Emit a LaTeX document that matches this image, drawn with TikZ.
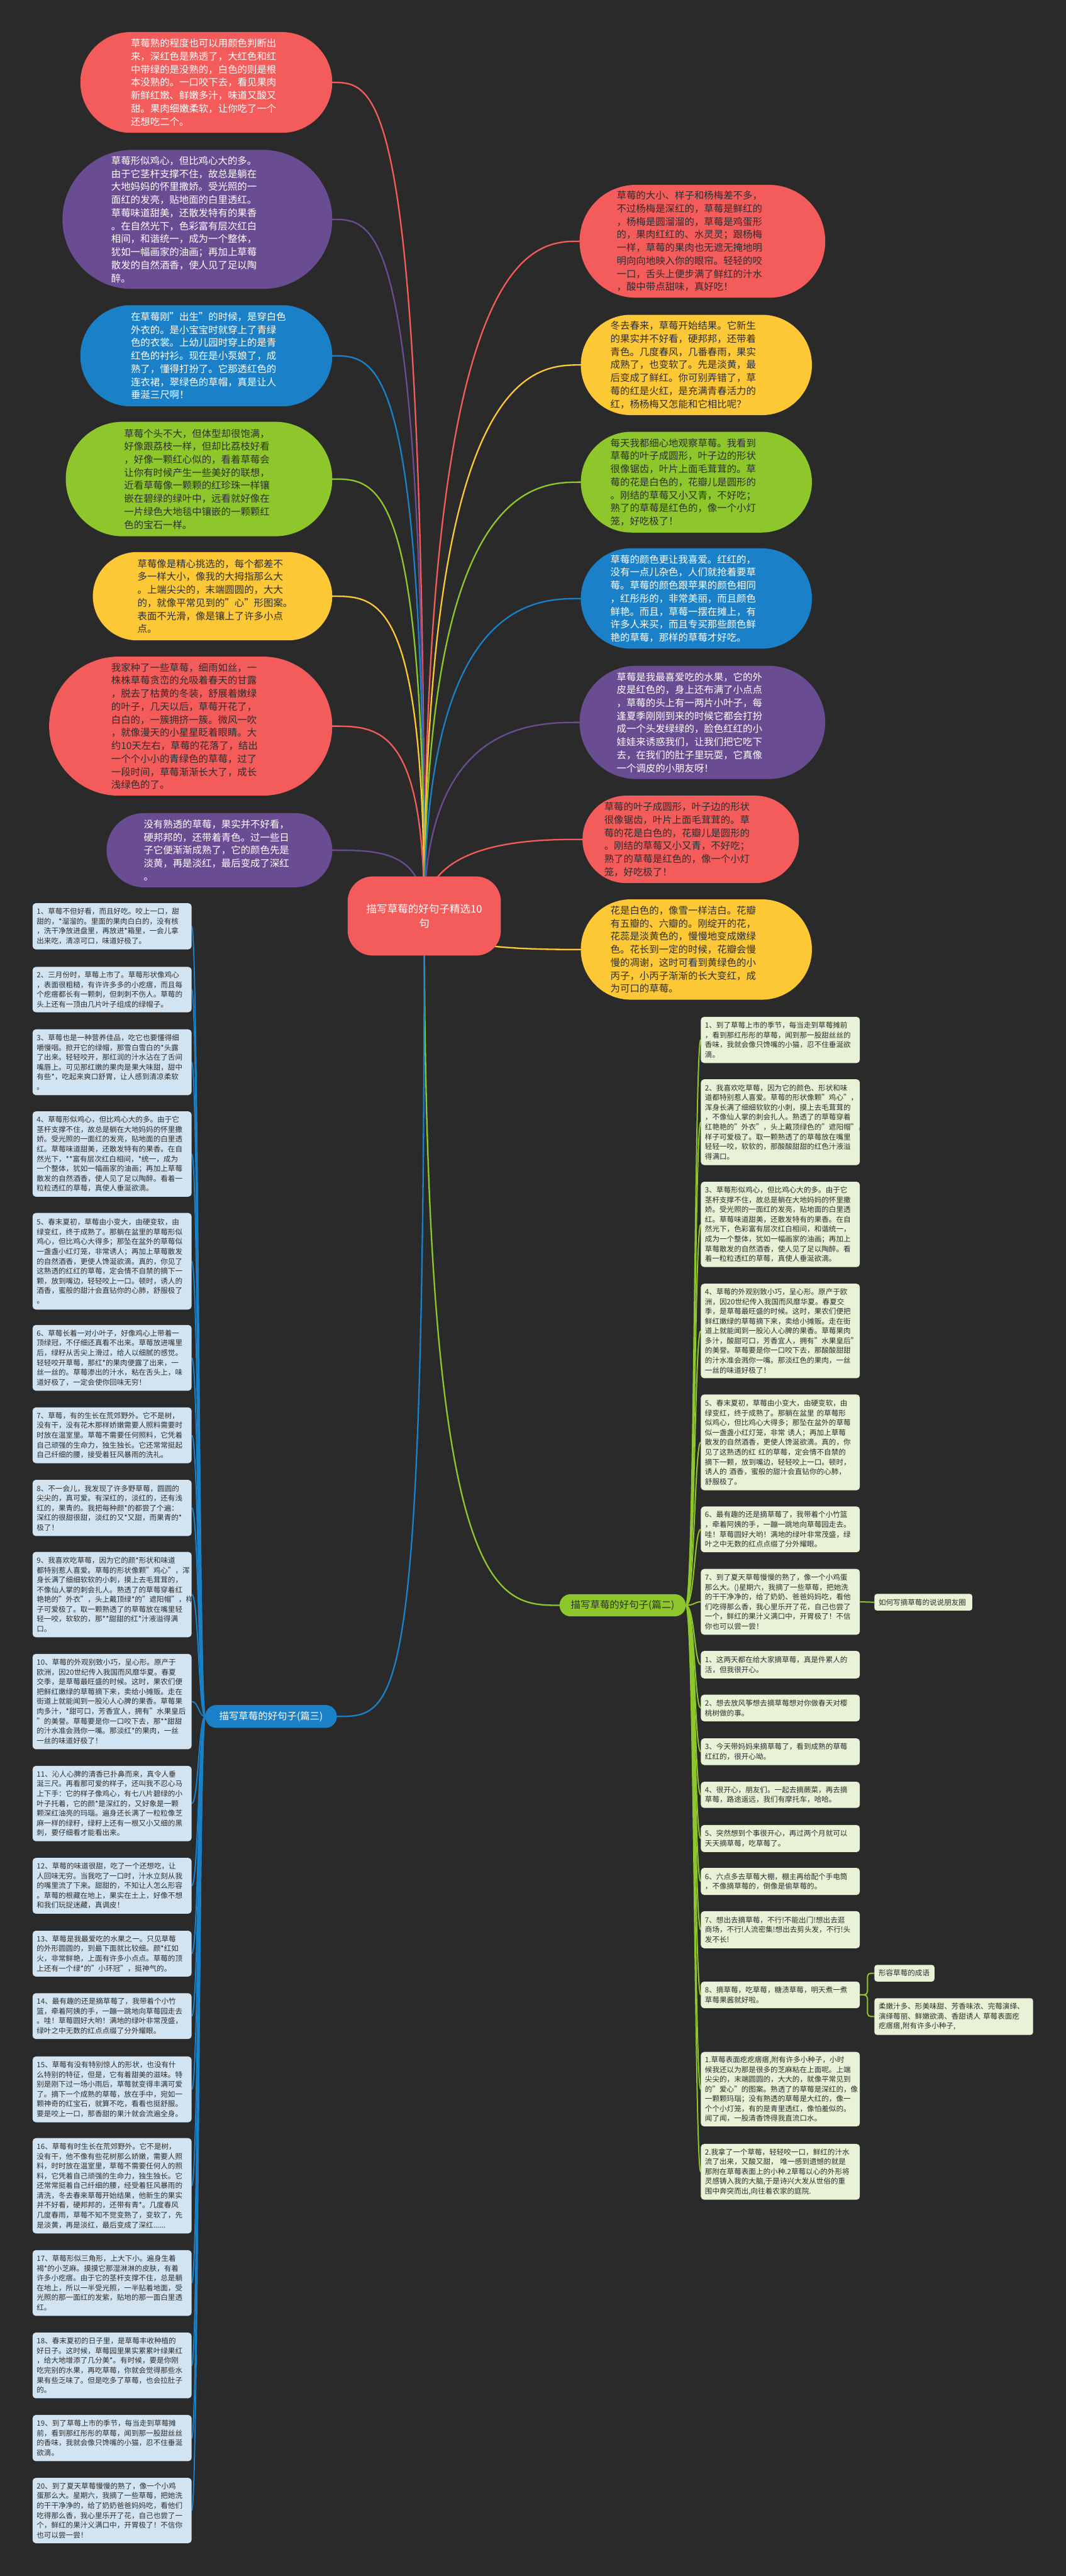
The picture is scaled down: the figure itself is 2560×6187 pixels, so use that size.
\documentclass[tikz,border=0pt]{standalone}
\usepackage{fontspec}
\setmainfont{Noto Sans CJK SC}
\usetikzlibrary{calc}
\definecolor{bgc}{HTML}{2A2A2A}
\definecolor{cred}{HTML}{F45B5B}
\definecolor{cpur}{HTML}{6A4C93}
\definecolor{cblu}{HTML}{1A80C8}
\definecolor{cgrn}{HTML}{8EC72B}
\definecolor{cyel}{HTML}{FDC836}
\definecolor{lgf}{HTML}{E8F2D6}
\definecolor{lbf}{HTML}{D2E4F2}
\definecolor{dtx}{HTML}{2E2E2E}
\newcommand\mybubfont{\fontsize{23.3}{31.3}\selectfont}
\newcommand\mylistfont{\fontsize{17.5}{23.5}\selectfont}
\pgfdeclarelayer{bgl}
\pgfdeclarelayer{edges}
\pgfsetlayers{bgl,edges,main}
\tikzset{
  bubble/.style={rectangle, inner sep=0pt, draw=none},
  btxt/.style={anchor=west, inner sep=0pt, align=left, font=\mybubfont},
  lbbox/.style={anchor=north west, fill=lbf, rounded corners=8pt, text width=362pt, inner xsep=10pt, inner ysep=0pt, align=left, font=\mylistfont, text=dtx},
  lgbox/.style={anchor=north west, fill=lgf, rounded corners=8pt, text width=362pt, inner xsep=10pt, inner ysep=0pt, align=left, font=\mylistfont, text=dtx},
  conn/.style={line width=3.5pt, line cap=round},
  gl/.style={line width=3pt, cgrn},
  bl/.style={line width=3pt, cblu},
}
\begin{document}
\begin{tikzpicture}[x=1pt,y=-1pt]
\begin{pgfonlayer}{bgl}
\fill[bgc] (0,0) rectangle (2560,6187);
\end{pgfonlayer}
\useasboundingbox (0,0) rectangle (2560,6187);

% ---------- center ----------
\node[rectangle, rounded corners=60pt, fill=cred, minimum width=368pt, minimum height=190pt, text=white, align=center, font=\fontsize{25}{34}\selectfont] (c) at (1019,2200) {描写草莓的好句子精选10\\句};

% ---------- left bubbles ----------
\node[bubble, fill=cred, rounded corners=121pt, minimum width=605pt, minimum height=242pt] (l1) at (495.5,198) {};
\node[btxt, text=white] (l1t) at (314,198) {草莓熟的程度也可以用颜色判断出\\来，深红色是熟透了，大红色和红\\中带绿的是没熟的，白色的则是根\\本没熟的。一口咬下去，看见果肉\\新鲜红嫩、鲜嫩多汁，味道又酸又\\甜。果肉细嫩柔软，让你吃了一个\\还想吃二个。};

\node[bubble, fill=cpur, rounded corners=167pt, minimum width=648pt, minimum height=334pt] (l2) at (474,527) {};
\node[btxt, text=white] (l2t) at (267,527) {草莓形似鸡心，但比鸡心大的多。\\由于它茎杆支撑不住，故总是躺在\\大地妈妈的怀里撒娇。受光照的一\\面红的发亮，贴地面的白里透红。\\草莓味道甜美，还散发特有的果香\\。在自然光下，色彩富有层次红白\\相间，和谐统一，成为一个整体，\\犹如一幅画家的油画；再加上草莓\\散发的自然酒香，使人见了足以陶\\醉。};

\node[bubble, fill=cblu, rounded corners=121pt, minimum width=605pt, minimum height=243pt] (l3) at (495.5,854.5) {};
\node[btxt, text=white] (l3t) at (314,854.5) {在草莓刚"出生"的时候，是穿白色\\外衣的。是小宝宝时就穿上了青绿\\色的衣裳。上幼儿园时穿上的是青\\红色的衬衫。现在是小泵娘了，成\\熟了，懂得打扮了。它那透红色的\\连衣裙，翠绿色的草帽，真是让人\\垂涎三尺啊！};

\node[bubble, fill=cgrn, rounded corners=137pt, minimum width=640pt, minimum height=275pt] (l4) at (478,1150.5) {};
\node[btxt, text=dtx] (l4t) at (298,1150.5) {草莓个头不大，但体型却很饱满，\\好像跟荔枝一样，但却比荔枝好看\\，好像一颗红心似的，看着草莓会\\让你有时候产生一些美好的联想，\\近看草莓像一颗颗的红珍珠一样镶\\嵌在碧绿的绿叶中，远看就好像在\\一片绿色大地毯中镶嵌的一颗颗红\\色的宝石一样。};

\node[bubble, fill=cyel, rounded corners=106pt, minimum width=575pt, minimum height=212pt] (l5) at (510.5,1432) {};
\node[btxt, text=dtx] (l5t) at (330,1432) {草莓像是精心挑选的，每个都差不\\多一样大小，像我的大拇指那么大\\。上端尖尖的，末端圆圆的，大大\\的，就像平常见到的"心"形图案。\\表面不光滑，像是镶上了许多小点\\点。};

\node[bubble, fill=cred, rounded corners=167pt, minimum width=680pt, minimum height=334pt] (l6) at (458,1744) {};
\node[btxt, text=dtx] (l6t) at (267,1744) {我家种了一些草莓，细雨如丝，一\\株株草莓贪峦的允吸着春天的甘露\\，脱去了枯黄的冬装，舒展着嫩绿\\的叶子，几天以后，草莓开花了，\\白白的，一簇拥挤一簇。微风一吹\\，就像漫天的小星星眨着眼睛。大\\约10天左右，草莓的花落了，结出\\一个个小小的青绿色的草莓，过了\\一段时间，草莓渐渐长大了，成长\\浅绿色的了。};

\node[bubble, fill=cpur, rounded corners=89pt, minimum width=542pt, minimum height=178pt] (l7) at (527,2042) {};
\node[btxt, text=white] (l7t) at (345,2042) {没有熟透的草莓，果实并不好看，\\硬邦邦的，还带着青色。过一些日\\子它便渐渐成熟了，它的颜色先是\\淡黄，再是淡红，最后变成了深红\\。};

% ---------- right bubbles ----------
\node[bubble, fill=cred, rounded corners=135pt, minimum width=590pt, minimum height=271pt] (r1) at (1687,579.5) {};
\node[btxt, text=dtx] (r1t) at (1481,579.5) {草莓的大小、样子和杨梅差不多，\\不过杨梅是深红的，草莓是鲜红的\\，杨梅是圆溜溜的，草莓是鸡蛋形\\的，果肉红红的、水灵灵；跟杨梅\\一样，草莓的果肉也无遮无掩地明\\明向向地映入你的眼帘。轻轻的咬\\一口，舌头上便步满了鲜红的汁水\\，酸中带点甜味，真好吃！};

\node[bubble, fill=cyel, rounded corners=120pt, minimum width=555pt, minimum height=241pt] (r2) at (1672.5,876.5) {};
\node[btxt, text=dtx] (r2t) at (1466,876.5) {冬去春来，草莓开始结果。它新生\\的果实并不好看，硬邦邦，还带着\\青色。几度春风，几番春雨，果实\\成熟了，也变软了。先是淡黄，最\\后变成了鲜红。你可别弄错了，草\\莓的红是火红，是充满青春活力的\\红，杨杨梅又怎能和它相比呢？};

\node[bubble, fill=cgrn, rounded corners=121pt, minimum width=555pt, minimum height=242pt] (r3) at (1672.5,1158) {};
\node[btxt, text=dtx] (r3t) at (1466,1158) {每天我都细心地观察草莓。我看到\\草莓的叶子成圆形，叶子边的形状\\很像锯齿，叶片上面毛茸茸的。草\\莓的花是白色的，花瓣儿是圆形的\\。刚结的草莓又小又青，不好吃；\\熟了的草莓是红色的，像一个小灯\\笼，好吃极了！};

\node[bubble, fill=cblu, rounded corners=120pt, minimum width=555pt, minimum height=241pt] (r4) at (1672.5,1437.5) {};
\node[btxt, text=white] (r4t) at (1466,1437.5) {草莓的颜色更让我喜爱。红红的，\\没有一点儿杂色，人们就抢着要草\\莓。草莓的颜色跟苹果的颜色相同\\，红彤彤的，非常美丽，而且颜色\\鲜艳。而且，草莓一摆在摊上，有\\许多人来买，而且专买那些颜色鲜\\艳的草莓，那样的草莓才好吃。};

\node[bubble, fill=cpur, rounded corners=136pt, minimum width=590pt, minimum height=272pt] (r5) at (1687,1735) {};
\node[btxt, text=white] (r5t) at (1481,1735) {草莓是我最喜爱吃的水果，它的外\\皮是红色的，身上还布满了小点点\\，草莓的头上有一两片小叶子，每\\逢夏季刚刚到来的时候它都会打扮\\成一个头发绿绿的，脸色红红的小\\娃娃来诱惑我们，让我们把它吃下\\去，在我们的肚子里玩耍，它真像\\一个调皮的小朋友呀！};

\node[bubble, fill=cred, rounded corners=105pt, minimum width=520pt, minimum height=210pt] (r6) at (1659,2016) {};
\node[btxt, text=dtx] (r6t) at (1451,2016) {草莓的叶子成圆形，叶子边的形状\\很像锯齿，叶片上面毛茸茸的。草\\莓的花是白色的，花瓣儿是圆形的\\。刚结的草莓又小又青，不好吃；\\熟了的草莓是红色的，像一个小灯\\笼，好吃极了！};

\node[bubble, fill=cyel, rounded corners=120pt, minimum width=555pt, minimum height=241pt] (r7) at (1672.5,2280.5) {};
\node[btxt, text=dtx] (r7t) at (1466,2280.5) {花是白色的，像雪一样洁白。花瓣\\有五瓣的、六瓣的。刚绽开的花，\\花蕊是淡黄色的，慢慢地变成嫩绿\\色。花长到一定的时候，花瓣会慢\\慢的凋谢，这时可看到黄绿色的小\\丙子，小丙子渐渐的长大变红，成\\为可口的草莓。};

% ---------- section nodes ----------
\node[rectangle, rounded corners=26pt, fill=cgrn, minimum width=303pt, minimum height=53pt, inner sep=0pt, text=dtx, font=\mybubfont] (p2) at (1495.5,3855.5) {描写草莓的好句子(篇二)};
\node[rectangle, rounded corners=27pt, fill=cblu, minimum width=316pt, minimum height=55pt, inner sep=0pt, text=white, font=\mybubfont] (p3) at (651,4122.5) {描写草莓的好句子(篇三)};

% ---------- blue list (篇三) ----------
\node[lbbox, minimum height=111pt] (b1) at (78,2169) {1、草莓不但好看，而且好吃。咬上一口，甜\\甜的，*溜溜的。里面的果肉白白的，没有核\\，洗干净放进盘里，再放进*箱里，一会儿拿\\出来吃，清凉可口，味道好极了。};
\node[lbbox, minimum height=109pt] (b2) at (78,2322) {2、三月份时，草莓上市了。草莓形状像鸡心\\，表面很粗糙，有许许多多的小疙瘩，而且每\\个疙瘩都长有一颗刺，但刺刺不伤人。草莓的\\头上还有一顶由几片叶子组成的绿帽子。};
\node[lbbox, minimum height=158pt] (b3) at (78,2472) {3、草莓也是一种营养佳品，吃它也要懂得细\\嚼慢咽。掀开它的绿帽，那雪白雪白的*头露\\了出来。轻轻咬开，那红润的汁水沾在了舌间\\嘴唇上。可见那红嫩的果肉是果大味甜，甜中\\有些*，吃起来爽口舒胃，让人感到清凉柔软\\。};
\node[lbbox, minimum height=205pt] (b4) at (78,2669) {4、草莓形似鸡心，但比鸡心大的多。由于它\\茎杆支撑不住，故总是躺在大地妈妈的怀里撒\\娇。受光照的一面红的发亮，贴地面的白里透\\红。草莓味道甜美，还散发特有的果香。在自\\然光下，**富有层次红白相间，*统一，成为\\一个整体，犹如一幅画家的油画；再加上草莓\\散发的自然酒香，使人见了足以陶醉。看着一\\粒粒透红的草莓，真使人垂涎欲滴。};
\node[lbbox, minimum height=232pt] (b5) at (78,2913) {5、春末夏初，草莓由小变大，由硬变软，由\\绿变红，终于成熟了。那躺在盆里的草莓形似\\鸡心，但比鸡心大得多；那坠在盆外的草莓似\\一盏盏小红灯笼，非常诱人；再加上草莓散发\\的自然酒香，更使人馋涎欲滴。真的，你见了\\这熟透的红红的草莓，定会情不自禁的摘下一\\颗，放到嘴边，轻轻咬上一口。顿时，诱人的\\酒香，蜜般的甜汁会直钻你的心肺，舒服极了\\。};
\node[lbbox, minimum height=158pt] (b6) at (78,3182) {6、草莓长着一对小叶子，好像鸡心上带着一\\顶绿冠，不仔细还真看不出来。草莓放进嘴里\\后，绿籽从舌尖上滑过，给人以细腻的感觉。\\轻轻咬开草莓，那红*的果肉便露了出来，一\\丝一丝的。草莓渗出的汁水，粘在舌头上，味\\道好极了，一定会使你回味无穷！};
\node[lbbox, minimum height=134pt] (b7) at (78,3380) {7、草莓，有的生长在荒郊野外。它不是树，\\没有干，没有花木那样娇嫩需要人照料需要时\\时放在温室里。草莓不需要任何照料，它凭着\\自己顽强的生命力，独生独长。它还常常挺起\\自己纤细的腰，接受着狂风暴雨的洗礼。};
\node[lbbox, minimum height=135pt] (b8) at (78,3554) {8、不一会儿，我发现了许多野草莓，圆圆的\\尖尖的，真可爱。有深红的，淡红的，还有浅\\红的，果青的。我把每种颜*的都尝了个遍：\\深红的很甜很甜，淡红的又*又甜，而果青的*\\极了！};
\node[lbbox, minimum height=205pt] (b9) at (78,3727) {9、我喜欢吃草莓，因为它的颜*形状和味道\\都特别惹人喜爱。草莓的形状像颗"鸡心"，浑\\身长满了细细软软的小刺，摸上去毛茸茸的，\\不像仙人掌的刺会扎人。熟透了的草莓穿着红\\艳艳的"外衣"，头上戴顶绿*的"遮阳帽"，样\\子可爱极了。取一颗熟透了的草莓放在嘴里轻\\轻一咬，软软的，那**甜甜的红*汁液溢得满\\口。};
\node[lbbox, minimum height=229pt] (b10) at (78,3972) {10、草莓的外观别致小巧，呈心形。原产于\\欧洲，因20世纪传入我国而风靡华夏。春夏\\交季，是草莓最旺盛的时候。这时，果农们便\\把鲜红嫩绿的草莓摘下来，卖给小摊贩。走在\\街道上就能闻到一股沁人心脾的果香。草莓果\\肉多汁，*甜可口，芳香宜人，拥有"水果皇后\\"的美誉。草莓要是你一口咬下去，那**甜甜\\的汁水准会溅你一嘴。那淡红*的果肉，一丝\\一丝的味道好极了！};
\node[lbbox, minimum height=181pt] (b11) at (78,4241) {11、沁人心脾的清香已扑鼻而来，真令人垂\\涎三尺。再看那可爱的样子，还叫我不忍心马\\上下手：它的样子像鸡心，有七八片碧绿的小\\叶子托着，它的颜*是深红的，又好象是一颗\\颗深红油亮的玛瑙。遍身还长满了一粒粒像芝\\麻一样的绿籽，绿籽上还有一根又小又细的黑\\刺，要仔细看才能看出来。};
\node[lbbox, minimum height=134pt] (b12) at (78,4462) {12、草莓的味道很甜，吃了一个还想吃，让\\人回味无穷。当我吃了一口时，汁水立刻从我\\的嘴里流了下来。甜甜的，不知让人怎么形容\\。草莓的根藏在地上，果实在土上，好像不想\\和我们玩捉迷藏，真调皮！};
\node[lbbox, minimum height=110pt] (b13) at (78,4637) {13、草莓是我最爱吃的水果之一。只见草莓\\的外形圆圆的，到最下面就比较细。颜*红如\\火，非常鲜艳，上面有许多小点点。草莓的顶\\上还有一个绿*的"小环冠"，挺神气的。};
\node[lbbox, minimum height=110pt] (b14) at (78,4787) {14、最有趣的还是摘草莓了，我带着个小竹\\篮，牵着阿姨的手，一蹦一跳地向草莓园走去\\。哇！草莓圆好大哟！满地的绿叶非常茂盛，\\绿叶之中无数的红点点缀了分外耀眼。};
\node[lbbox, minimum height=158pt] (b15) at (78,4939) {15、草莓有没有特别惊人的形状，也没有什\\么特别的特征，但是，它有着甜美的滋味。特\\别是刚下过一场小雨后，草莓就变得丰满可爱\\了。摘下一个成熟的草莓，放在手中，宛如一\\颗神奇的红宝石，就算不吃，看看也挺舒服。\\要是咬上一口，那香甜的果汁就会流遍全身。};
\node[lbbox, minimum height=229pt] (b16) at (78,5135) {16、草莓有时生长在荒郊野外。它不是树，\\没有干，他不像有些花树那么娇嫩，需要人照\\料，时时放在温室里，草莓不需要任何人的照\\料，它凭着自己顽强的生命力，独生独长。它\\还常常挺着自己纤细的腰，经受着狂风暴雨的\\清洗，冬去春来草莓开始结果，他新生的果实\\并不好看，硬邦邦的，还带有青*。几度春风\\几度春雨，草莓不知不觉变熟了，变软了，先\\是淡黄，再是淡红，最后变成了深红......};
\node[lbbox, minimum height=158pt] (b17) at (78,5404) {17、草莓形似三角形，上大下小。遍身生着\\褐*的小芝麻。摸摸它那湿淋淋的皮肤，有着\\许多小疙瘩。由于它的茎杆支撑不住，总是躺\\在地上，所以一半受光照，一半贴着地面，受\\光照的那一面红的发紫，贴地的那一面白里透\\红。};
\node[lbbox, minimum height=158pt] (b18) at (78,5602) {18、春末夏初的日子里，是草莓丰收种植的\\好日子。这时候，草莓园里果实累累叶绿果红\\，给大地增添了几分美*。有时候，要是你刚\\吃完别的水果，再吃草莓，你就会觉得那些水\\果有些乏味了。但是吃多了草莓，也会拉肚子\\的。};
\node[lbbox, minimum height=111pt] (b19) at (78,5800) {19、到了草莓上市的季节，每当走到草莓摊\\前，看到那红彤彤的草莓，闻到那一股甜丝丝\\的香味，我就会像只馋嘴的小猫，忍不住垂涎\\欲滴。};
\node[lbbox, minimum height=157pt] (b20) at (78,5951) {20、到了夏天草莓慢慢的熟了，像一个小鸡\\蛋那么大。星期六，我摘了一些草莓，把她洗\\的干干净净的，给了奶奶爸爸妈妈吃，看他们\\吃得那么香，我心里乐开了花，自己也尝了一\\个，鲜红的果汁义满口中，开胃极了！不信你\\也可以尝一尝！};

% ---------- green list (篇二) ----------
\node[lgbox, minimum height=111pt] (g1) at (1683,2442) {1、到了草莓上市的季节，每当走到草莓摊前\\，看到那红彤彤的草莓，闻到那一股甜丝丝的\\香味，我就会像只馋嘴的小猫，忍不住垂涎欲\\滴。};
\node[lgbox, minimum height=206pt] (g2) at (1683,2592) {2、我喜欢吃草莓，因为它的颜色、形状和味\\道都特别惹人喜爱。草莓的形状像颗"鸡心"，\\浑身长满了细细软软的小刺，摸上去毛茸茸的\\，不像仙人掌的刺会扎人。熟透了的草莓穿着\\红艳艳的"外衣"，头上戴顶绿色的"遮阳帽"，\\样子可爱极了。取一颗熟透了的草莓放在嘴里\\轻轻一咬，软软的，那酸酸甜甜的红色汁液溢\\得满口。};
\node[lgbox, minimum height=205pt] (g3) at (1683,2838) {3、草莓形似鸡心，但比鸡心大的多。由于它\\茎杆支撑不住，故总是躺在大地妈妈的怀里撒\\娇。受光照的一面红的发亮，贴地面的白里透\\红。草莓味道甜美，还散发特有的果香。在自\\然光下，色彩富有层次红白相间，和谐统一，\\成为一个整体，犹如一幅画家的油画；再加上\\草莓散发的自然酒香，使人见了足以陶醉。看\\着一粒粒透红的草莓，真使人垂涎欲滴。};
\node[lgbox, minimum height=227pt] (g4) at (1683,3083) {4、草莓的外观别致小巧，呈心形。原产于欧\\洲，因20世纪传入我国而风靡华夏。春夏交\\季，是草莓最旺盛的时候。这时，果农们便把\\鲜红嫩绿的草莓摘下来，卖给小摊贩。走在街\\道上就能闻到一股沁人心脾的果香。草莓果肉\\多汁，酸甜可口，芳香宜人，拥有"水果皇后"\\的美誉。草莓要是你一口咬下去，那酸酸甜甜\\的汁水准会溅你一嘴。那淡红色的果肉，一丝\\一丝的味道好极了！};
\node[lgbox, minimum height=230pt] (g5) at (1683,3349) {5、春末夏初，草莓由小变大，由硬变软，由\\绿变红，终于成熟了。那躺在盆里 的草莓形\\似鸡心，但比鸡心大得多；那坠在盆外的草莓\\似一盏盏小红灯笼，非常 诱人；再加上草莓\\散发的自然酒香，更使人馋涎欲滴。真的，你\\见了这熟透的红 红的草莓，定会情不自禁的\\摘下一颗，放到嘴边，轻轻咬上一口。顿时，\\诱人的 酒香，蜜般的甜汁会直钻你的心肺，\\舒服极了。};
\node[lgbox, minimum height=110pt] (g6) at (1683,3618) {6、最有趣的还是摘草莓了，我带着个小竹篮\\，牵着阿姨的手，一蹦一跳地向草莓园走去。\\哇！草莓圆好大哟！满地的绿叶非常茂盛，绿\\叶之中无数的红点点缀了分外耀眼。};
\node[lgbox, minimum height=158pt] (g7) at (1683,3768) {7、到了夏天草莓慢慢的熟了，像一个小鸡蛋\\那么大。()星期六，我摘了一些草莓，把她洗\\的干干净净的，给了奶奶、爸爸妈妈吃，看他\\们吃得那么香，我心里乐开了花，自己也尝了\\一个，鲜红的果汁义满口中，开胃极了！不信\\你也可以尝一尝！};
\node[lgbox, minimum height=66pt] (g8) at (1683,3965) {1、这两天都在给大家摘草莓，真是件累人的\\活，但我很开心。};
\node[lgbox, minimum height=64pt] (g9) at (1683,4070) {2、想去放风筝想去摘草莓想对你做春天对樱\\桃树做的事。};
\node[lgbox, minimum height=64pt] (g10) at (1683,4175) {3、今天带妈妈来摘草莓了，看到成熟的草莓\\红红的，很开心呦。};
\node[lgbox, minimum height=63pt] (g11) at (1683,4279) {4、很开心，朋友们。一起去摘蕨菜，再去摘\\草莓，路途遥远，我们有摩托车，哈哈。};
\node[lgbox, minimum height=65pt] (g12) at (1683,4383) {5、突然想到个事很开心，再过两个月就可以\\天天摘草莓，吃草莓了。};
\node[lgbox, minimum height=65pt] (g13) at (1683,4486) {6、六点多去草莓大棚，棚主再给配个手电筒\\，不像摘草莓的，倒像是偷草莓的。};
\node[lgbox, minimum height=89pt] (g14) at (1683,4590) {7、想出去摘草莓，不行!不能出门!想出去逛\\商场，不行!人流密集!想出去剪头发，不行!头\\发不长!};
\node[lgbox, minimum height=64pt] (g15) at (1683,4759) {8、摘草莓，吃草莓，糖渍草莓，明天煮一煮\\草莓果酱就好啦。};
\node[lgbox, minimum height=179pt] (g16) at (1683,4928) {1.草莓表面疙疙瘩瘩,附有许多小种子，小时\\候我还以为那是很多的芝麻粘在上面呢。上端\\尖尖的，末端圆圆的，大大的，就像平常见到\\的"爱心"的图案。熟透了的草莓是深红的，像\\一颗颗玛瑙；没有熟透的草莓是大红的，像一\\个个小灯笼，有的是青里透红，像怕羞似的。\\闻了闻，一股清香馋得我直流口水。};
\node[lgbox, minimum height=134pt] (g17) at (1683,5149) {2.我拿了一个草莓，轻轻咬一口，鲜红的汁水\\流了出来，又酸又甜， 唯一感到遗憾的就是\\那附在草莓表面上的小种.2草莓以心的外形将\\灵感铸入我的大脑,于是诗兴大发从世俗的重\\围中奔突而出,向往着农家的庭院.};

% ---------- extra nodes ----------
\node[lgbox, text width=215pt, minimum height=40pt, rounded corners=6pt] (e1) at (2100,3828) {如何写摘草莓的说说朋友圈};
\node[lgbox, text width=124pt, minimum height=40pt, rounded corners=6pt] (e2) at (2100,4719) {形容草莓的成语};
\node[lgbox, text width=361pt, minimum height=88pt, rounded corners=6pt] (e3) at (2100,4799) {柔嫩汁多、形美味甜、芳香味浓、完莓演绎、\\演绎莓丽、鲜嫩欲滴、香甜诱人 草莓表面疙\\疙瘩瘩,附有许多小种子,};

\coordinate (tg) at (1668,3855);
\coordinate (tb) at (477,4122);

% ---------- edges ----------
\begin{pgfonlayer}{edges}
\foreach \n/\col in {l1/cred,l2/cpur,l3/cblu,l4/cgrn,l5/cyel,l6/cred,l7/cpur} {
  \draw[conn, \col] (c.center) .. controls (c.center |- \n.east) and ($(\n.east)+(110,0)$) .. (\n.east);
}
\foreach \n/\col in {r1/cred,r2/cyel,r3/cgrn,r4/cblu,r5/cpur,r6/cred,r7/cyel} {
  \draw[conn, \col] (c.center) .. controls (c.center |- \n.west) and ($(\n.west)+(-110,0)$) .. (\n.west);
}
\draw[conn, cgrn] (c.center) .. controls (c.center |- p2.west) and ($(p2.west)+(-150,0)$) .. (p2.west);
\draw[conn, cblu] (c.center) .. controls (c.center |- p3.east) and ($(p3.east)+(150,0)$) .. (p3.east);
\foreach \n in {1,...,17} {
  \draw[gl] (p2.east) .. controls (p2.east -| tg) and (g\n.west -| tg) .. (g\n.west);
}
\foreach \n in {1,...,20} {
  \draw[bl] (p3.west) .. controls (p3.west -| tb) and (b\n.east -| tb) .. (b\n.east);
}
\draw[gl] (g7.east) -- (e1.west);
\draw[gl, rounded corners=8pt] (g15.east) -- ($(g15.east)+(18,0)$) |- (e2.west);
\draw[gl, rounded corners=8pt] (g15.east) -- ($(g15.east)+(18,0)$) |- (e3.west);
\end{pgfonlayer}
\end{tikzpicture}
\end{document}
